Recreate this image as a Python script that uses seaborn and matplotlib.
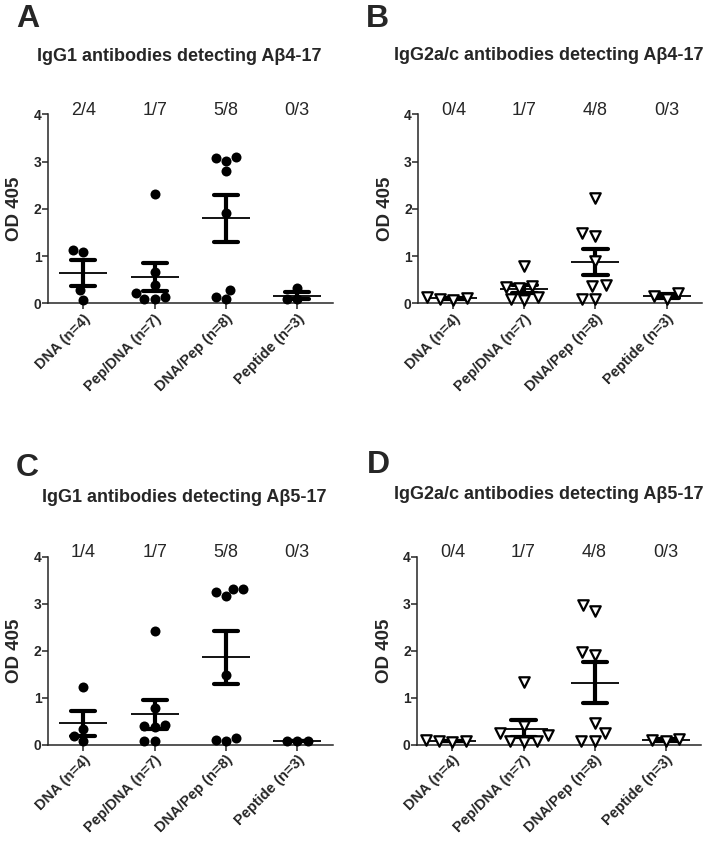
import numpy as np
import pandas as pd
import seaborn as sns
import matplotlib
matplotlib.use("Agg")
import matplotlib.pyplot as plt

sns.set_style("ticks")
plt.rcParams['font.family'] = ['Liberation Sans', 'DejaVu Sans']

groups = ["DNA (n=4)", "Pep/DNA (n=7)", "DNA/Pep (n=8)", "Peptide (n=3)"]

# panel A - IgG1, Abeta4-17
a_dna = [0.08, 0.28, 1.09, 1.13]
a_pepdna = [2.31, 0.67, 0.39, 0.21, 0.14, 0.085, 0.085]
a_dnapep = [3.10, 3.07, 3.02, 2.79, 1.92, 0.28, 0.14, 0.085]
a_pep = [0.32, 0.085, 0.085]
a_frac = ["2/4", "1/7", "5/8", "0/3"]

# panel B - IgG2a/c, Abeta4-17
b_dna = [0.08, 0.10, 0.14, 0.12]
b_pepdna = [0.78, 0.34, 0.32, 0.37, 0.13, 0.08, 0.10]
b_dnapep = [2.22, 1.48, 1.43, 0.90, 0.38, 0.36, 0.10, 0.10]
b_pep = [0.22, 0.09, 0.15]
b_frac = ["0/4", "1/7", "4/8", "0/3"]

# panel C - IgG1, Abeta5-17
c_dna = [1.22, 0.33, 0.18, 0.07]
c_pepdna = [2.42, 0.78, 0.38, 0.40, 0.41, 0.08, 0.08]
c_dnapep = [3.32, 3.16, 3.32, 3.25, 1.48, 0.14, 0.07, 0.09]
c_pep = [0.08, 0.07, 0.07]
c_frac = ["1/4", "1/7", "5/8", "0/3"]

# panel D - IgG2a/c, Abeta5-17
d_dna = [0.07, 0.08, 0.10, 0.06]
d_pepdna = [1.34, 0.40, 0.24, 0.20, 0.07, 0.08, 0.06]
d_dnapep = [2.97, 2.85, 1.90, 1.97, 0.46, 0.24, 0.08, 0.08]
d_pep = [0.13, 0.07, 0.09]
d_frac = ["0/4", "1/7", "4/8", "0/3"]


def make_df(*cols):
    rows = []
    for g, vals in zip(groups, cols):
        for v in vals:
            rows.append({"group": g, "od": v})
    return pd.DataFrame(rows)


panels = [
    ("A", "IgG1 antibodies detecting A\u03b24-17", make_df(a_dna, a_pepdna, a_dnapep, a_pep), a_frac, "o"),
    ("B", "IgG2a/c antibodies detecting A\u03b24-17", make_df(b_dna, b_pepdna, b_dnapep, b_pep), b_frac, "v"),
    ("C", "IgG1 antibodies detecting A\u03b25-17", make_df(c_dna, c_pepdna, c_dnapep, c_pep), c_frac, "o"),
    ("D", "IgG2a/c antibodies detecting A\u03b25-17", make_df(d_dna, d_pepdna, d_dnapep, d_pep), d_frac, "v"),
]

rects = [
    [0.0668, 0.6406, 0.3995, 0.224],
    [0.5854, 0.6406, 0.3978, 0.224],
    [0.0668, 0.1177, 0.3995, 0.2229],
    [0.584, 0.1177, 0.398, 0.2229],
]
letter_pos = [(0.022, 0.9775), (0.512, 0.9775), (0.022, 0.4459), (0.514, 0.449)]
title_pos = [(0.2507, 0.9325), (0.768, 0.9348), (0.2577, 0.4111), (0.769, 0.4139)]

fig = plt.figure(figsize=(7.14, 8.44), dpi=100)

for (letter, title, df, frac, mk), rect, lp, tp in zip(panels, rects, letter_pos, title_pos):
    ax = fig.add_axes(rect)
    ax.set_ylim(0, 4)
    if mk == "o":
        sns.swarmplot(data=df, x="group", y="od", order=groups, color="black",
                      marker="o", size=7.2, linewidth=0, ax=ax)
    else:
        sns.swarmplot(data=df, x="group", y="od", order=groups, color="white",
                      marker="v", size=7.5, edgecolor="black", linewidth=1.6, ax=ax)
    sns.pointplot(data=df, x="group", y="od", order=groups, errorbar="se",
                  linestyle="none", marker="_", markersize=34, markeredgewidth=1.3,
                  color="black", capsize=0.34, err_kws={"linewidth": 3.0}, ax=ax)
    for c in ax.collections:
        c.set_clip_on(False)
    for ln in ax.lines:
        ln.set_clip_on(False)
    ax.set_xlim(-0.5, 3.5)
    ax.set_ylim(0, 4)
    ax.set_yticks([0, 1, 2, 3, 4])
    ax.set_xlabel("")
    ax.set_ylabel("OD 405", fontsize=13.5, fontweight="bold")
    ax.yaxis.set_label_coords(-0.085, 0.5)
    sns.despine(ax=ax)
    for s in ["left", "bottom"]:
        ax.spines[s].set_linewidth(1.1)
    ax.tick_params(axis="y", length=4, width=1.1, pad=0.5, labelsize=10)
    ax.tick_params(axis="x", length=4, width=1.1, pad=2)
    for t in ax.get_yticklabels():
        t.set_fontweight("bold")
    ax.set_xticks(range(len(groups)))
    ax.set_xticklabels(groups, rotation=45, ha="right", rotation_mode="anchor",
                       fontsize=10.5, fontweight="bold")
    for i, f in enumerate(frac):
        ax.text(i, 4.09, f, ha="center", va="center", fontsize=13, clip_on=False)
    fig.text(lp[0], lp[1], letter, fontsize=23, fontweight="bold", va="center", ha="left")
    fig.text(tp[0], tp[1], title, fontsize=13, fontweight="bold", va="center", ha="center")

plt.savefig("out.png", dpi=100)
